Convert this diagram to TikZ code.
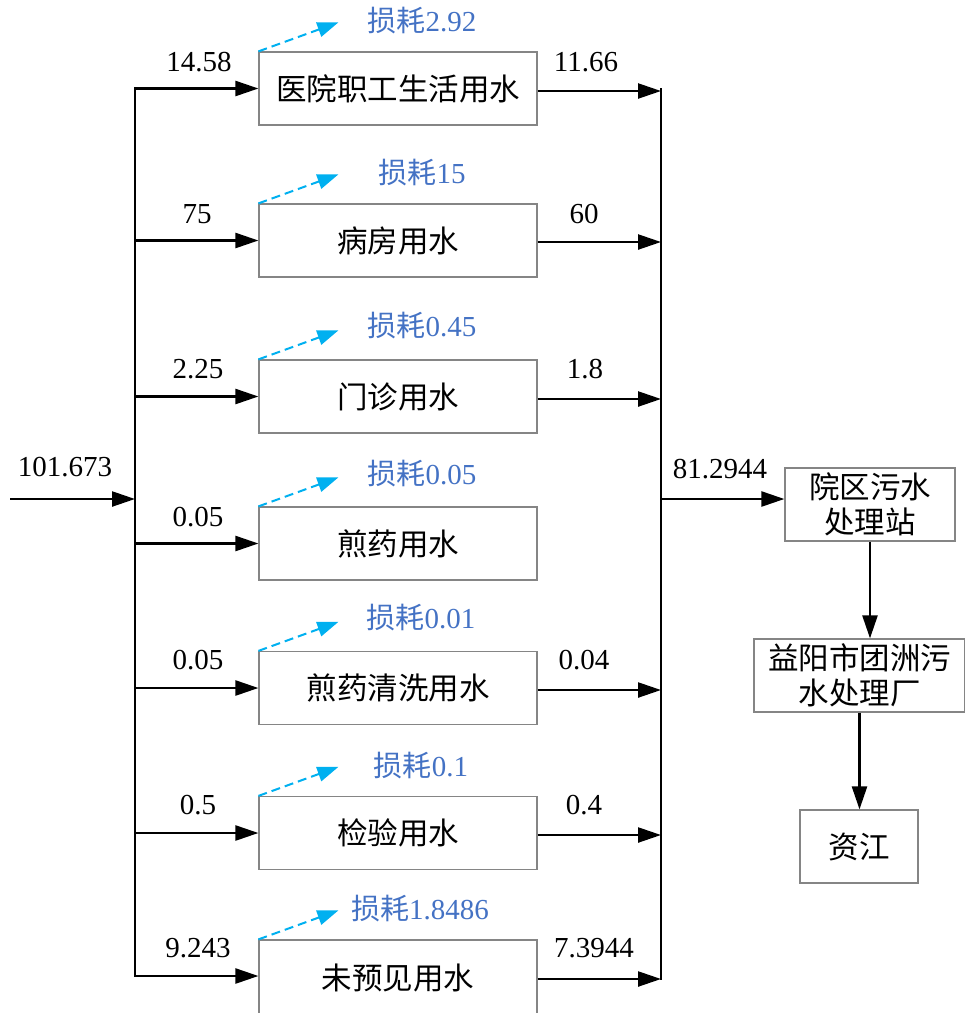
\documentclass[tikz,border=0pt]{standalone}
\usepackage{fontspec}
\setmainfont{Liberation Serif}
\newfontfamily\cjk{Noto Sans CJK SC}
\usetikzlibrary{arrows.meta,calc}
\definecolor{lossblue}{HTML}{4472C4}
\definecolor{dashcyan}{HTML}{00B0F0}
\definecolor{boxgray}{HTML}{858585}
\newcommand\fsz{\fontsize{29}{35}\selectfont}
\newcommand\bfsz{\fontsize{30.5}{35}\selectfont}
\tikzset{
  flow/.style={line width=2.4pt, -{Triangle[length=23pt,width=15pt]}},
  busline/.style={line width=2.4pt},
  box/.style={draw=boxgray, line width=1.2pt, minimum width=278pt, minimum height=73pt, inner sep=0pt, font=\bfsz\cjk, align=center},
  num/.style={font=\fsz, inner sep=0pt},
  loss/.style={font=\fsz, text=lossblue, inner sep=0pt},
  lossarr/.style={draw=dashcyan, line width=2pt, dash pattern=on 9pt off 5pt, -{Triangle[length=21pt,width=15pt,fill=dashcyan]}},
}
\begin{document}
\begin{tikzpicture}[x=1pt,y=-1pt]
\useasboundingbox (0,0) rectangle (965,1013);

% consumer boxes
\node[box] (b1) at (398,88.5) {医院职工生活用水};
\node[box] (b2) at (398,240.5) {病房用水};
\node[box] (b3) at (398,396.5) {门诊用水};
\node[box] (b4) at (398,543.5) {煎药用水};
\node[box] (b5) at (398,688) {煎药清洗用水};
\node[box] (b6) at (398,833) {检验用水};
\node[box, minimum height=76pt] (b7) at (398,978) {未预见用水};

% treatment chain
\node[box, minimum width=170pt] (r1) at (870,504.5) {院区污水\\处理站};
\node[box, minimum width=211pt] (r2) at (859.5,675.5) {益阳市团洲污\\水处理厂};
\node[box, minimum width=118pt] (r3) at (859,846.5) {资江};

% buses
\coordinate (ltop) at (135,87);
\coordinate (lbot) at (135,977);
\coordinate (rtop) at (661,88);
\coordinate (rbot) at (661,980);
\draw[busline] (ltop) -- (lbot);
\draw[busline] (rtop) -- (rbot);

% main inflow
\coordinate (src) at (10,499);
\coordinate (lj) at (135,499);
\draw[flow] (src) -- (lj);
\node[num] (tin) at (65,467) {101.673};

% inputs
\coordinate (i1) at (135,88.5);
\coordinate (i2) at (135,240.5);
\coordinate (i3) at (135,396.5);
\coordinate (i4) at (135,543.5);
\coordinate (i5) at (135,688);
\coordinate (i6) at (135,833);
\coordinate (i7) at (135,976);
\draw[flow] (i1) -- (i1 -| b1.west);
\draw[flow] (i2) -- (i2 -| b2.west);
\draw[flow] (i3) -- (i3 -| b3.west);
\draw[flow] (i4) -- (i4 -| b4.west);
\draw[flow] (i5) -- (i5 -| b5.west);
\draw[flow] (i6) -- (i6 -| b6.west);
\draw[flow] (i7) -- (i7 -| b7.west);
\node[num] (n1) at (199,62) {14.58};
\node[num] (n2) at (197,214) {75};
\node[num] (n3) at (198,369) {2.25};
\node[num] (n4) at (198,517) {0.05};
\node[num] (n5) at (198,660) {0.05};
\node[num] (n6) at (198,805) {0.5};
\node[num] (n7) at (198,948) {9.243};

% outputs
\coordinate (o1) at (661,91);
\coordinate (o2) at (661,242);
\coordinate (o3) at (661,399);
\coordinate (o5) at (661,690);
\coordinate (o6) at (661,835);
\coordinate (o7) at (661,979);
\draw[flow] (o1 -| b1.east) -- (o1);
\draw[flow] (o2 -| b2.east) -- (o2);
\draw[flow] (o3 -| b3.east) -- (o3);
\draw[flow] (o5 -| b5.east) -- (o5);
\draw[flow] (o6 -| b6.east) -- (o6);
\draw[flow] (o7 -| b7.east) -- (o7);
\node[num] (m1) at (586,62) {11.66};
\node[num] (m2) at (584,214) {60};
\node[num] (m3) at (585,369) {1.8};
\node[num] (m5) at (584,660) {0.04};
\node[num] (m6) at (584,805) {0.4};
\node[num] (m7) at (594,948) {7.3944};

% losses
\foreach \b in {b1,b2,b3,b4,b5,b6,b7}{
  \coordinate (\b tip) at ($(\b.north west)+(80,-29)$);
  \draw[lossarr] (\b.north west) -- (\b tip);
}
\node[loss] (l1) at (422,21) {{\cjk 损耗}2.92};
\node[loss] (l2) at (422,173) {{\cjk 损耗}15};
\node[loss] (l3) at (422,326) {{\cjk 损耗}0.45};
\node[loss] (l4) at (422,474) {{\cjk 损耗}0.05};
\node[loss] (l5) at (421,618) {{\cjk 损耗}0.01};
\node[loss] (l6) at (421,766) {{\cjk 损耗}0.1};
\node[loss] (l7) at (420,909) {{\cjk 损耗}1.8486};

% to treatment
\coordinate (rj) at (661,499);
\draw[flow] (rj) -- (rj -| r1.west);
\node[num] (tout) at (720,469) {81.2944};
\draw[flow] (r1.south) -- (r1.south |- r2.north);
\draw[flow] (r2.south) -- (r2.south |- r3.north);
\end{tikzpicture}
\end{document}
